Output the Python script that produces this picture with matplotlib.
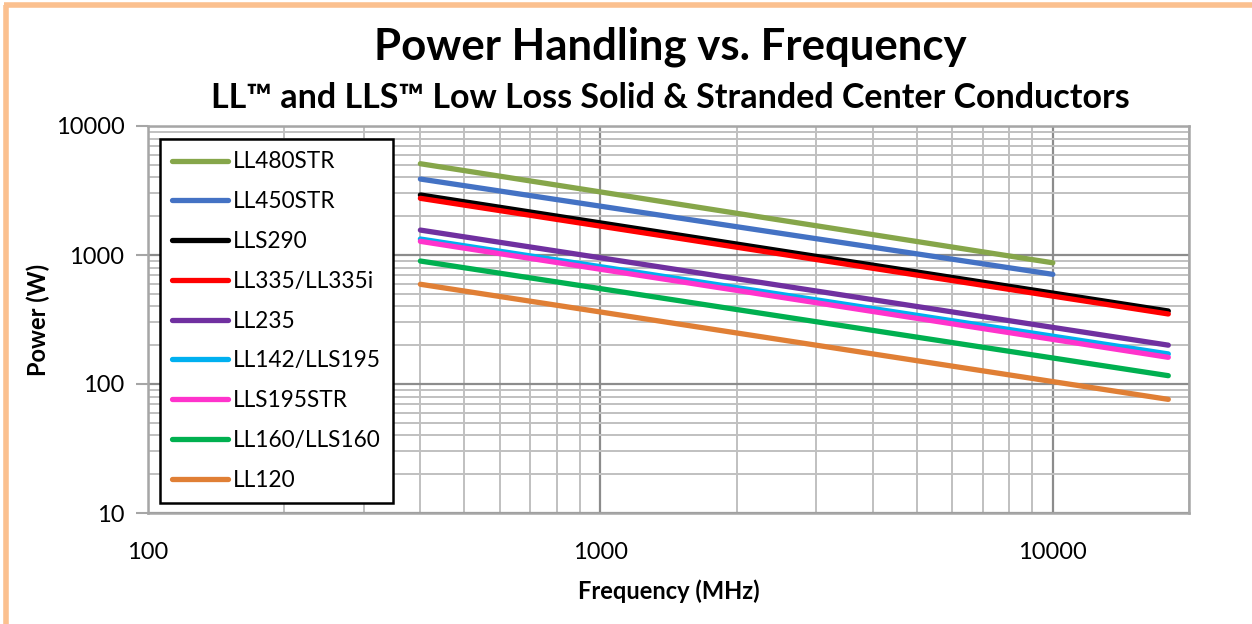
import matplotlib
matplotlib.use("Agg")
import matplotlib.pyplot as plt
from matplotlib.lines import Line2D
from matplotlib.ticker import LogLocator, NullFormatter, FixedLocator, FixedFormatter

# ---- data ----
series_names = ["LL480STR", "LL450STR", "LLS290", "LL335/LL335i", "LL235",
                "LL142/LLS195", "LLS195STR", "LL160/LLS160", "LL120"]
series_colors = ["#86A64A", "#4472C4", "#000000", "#FF0000", "#7030A0",
                 "#00B0F0", "#FF33CC", "#00B050", "#E07F35"]
freq_short = [400, 10000]
freq_long = [400, 18000]
ll480str = [5100, 870]
ll450str = [3880, 708]
lls290 = [2920, 368]
ll335 = [2750, 349]
ll235 = [1560, 200]
ll142 = [1330, 171]
lls195str = [1276, 161]
ll160 = [898, 116]
ll120 = [593, 76]
series_x = [freq_short, freq_short, freq_long, freq_long, freq_long,
            freq_long, freq_long, freq_long, freq_long]
series_y = [ll480str, ll450str, lls290, ll335, ll235, ll142, lls195str, ll160, ll120]

x_ticks = [100, 1000, 10000]
x_tick_labels = ["100", "1000", "10000"]
y_ticks = [10, 100, 1000, 10000]
y_tick_labels = ["10", "100", "1000", "10000"]

plt.rcParams['font.family'] = ['Lato', 'DejaVu Sans']

W, H = 1252, 624
fig = plt.figure(figsize=(W / 100, H / 100), dpi=100)

# orange frame (left and top)
fig.add_artist(Line2D([5.5 / W, 5.5 / W], [0, 1 - 4.5 / H], transform=fig.transFigure,
                      color="#FBC08F", lw=4, solid_capstyle="butt"))
fig.add_artist(Line2D([3.5 / W, 1], [1 - 4.5 / H, 1 - 4.5 / H], transform=fig.transFigure,
                      color="#FBC08F", lw=4, solid_capstyle="butt"))

left, right, top, bottom = 148, 1189, 126, 513
ax = fig.add_axes([left / W, 1 - bottom / H, (right - left) / W, (bottom - top) / H])
ax.set_xscale("log")
ax.set_yscale("log")
ax.set_xlim(100, 20000)
ax.set_ylim(10, 10000)

ax.xaxis.set_major_locator(FixedLocator(x_ticks))
ax.xaxis.set_major_formatter(FixedFormatter(x_tick_labels))
ax.yaxis.set_major_locator(FixedLocator(y_ticks))
ax.yaxis.set_major_formatter(FixedFormatter(y_tick_labels))
ax.xaxis.set_minor_locator(LogLocator(base=10, subs=range(2, 10)))
ax.yaxis.set_minor_locator(LogLocator(base=10, subs=range(2, 10)))
ax.xaxis.set_minor_formatter(NullFormatter())
ax.yaxis.set_minor_formatter(NullFormatter())

ax.grid(which="minor", color="#C0C0C0", lw=1.4, zorder=0)
ax.grid(which="major", color="#8C8C8C", lw=1.6, zorder=0)
ax.set_axisbelow(True)

for s in ["left", "bottom", "right", "top"]:
    ax.spines[s].set_color("#A6A6A6")
    ax.spines[s].set_linewidth(1.8)

ax.tick_params(axis="y", which="major", length=9, width=1.5, color="#A6A6A6",
               labelsize=17, pad=8)
ax.tick_params(axis="x", which="major", length=0, labelsize=17, pad=21)
ax.tick_params(which="minor", length=0)

for name, col, xs, ys in zip(series_names, series_colors, series_x, series_y):
    ax.plot(xs, ys, color=col, lw=3.8, solid_capstyle="round", label=name, zorder=3)

ax.set_xlabel("Frequency (MHz)", fontsize=17, fontweight="bold", labelpad=12)
ax.set_ylabel("Power (W)", fontsize=17, fontweight="bold", labelpad=4)

leg = ax.legend(loc="upper left", bbox_to_anchor=(160 / W, 1 - 139 / H),
                bbox_transform=fig.transFigure, fontsize=16.3, frameon=True,
                fancybox=False, edgecolor="black", framealpha=1,
                handlelength=2.45, handletextpad=0.2, labelspacing=0.83,
                borderpad=0.55, borderaxespad=0)
leg.get_frame().set_linewidth(1.8)

fig.text(670 / W, 1 - 47 / H, "Power Handling vs. Frequency", ha="center", va="center",
         fontsize=31.5, fontweight="bold")
fig.text(670 / W, 1 - 98 / H, "LL™ and LLS™ Low Loss Solid & Stranded Center Conductors",
         ha="center", va="center", fontsize=24.5, fontweight="bold")

fig.savefig("out.png", dpi=100)
